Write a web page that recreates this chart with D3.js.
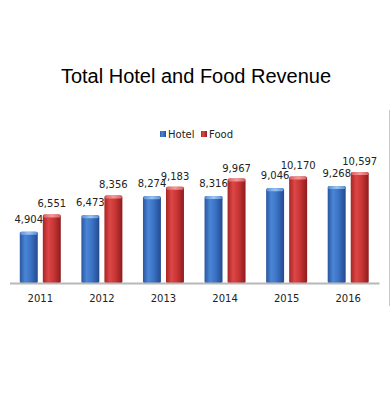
<!DOCTYPE html>
<html>
<head>
<meta charset="utf-8">
<script src="https://cdn.jsdelivr.net/npm/d3@7"></script>
<style>
  body { margin: 0; background: #fff; }
  svg { display: block; }
</style>
</head>
<body>
<div class="chart"></div>
<script>
// values
const years = ["2011", "2012", "2013", "2014", "2015", "2016"];
const hotel = [4904, 6473, 8274, 8316, 9046, 9268];
const food = [6551, 8356, 9183, 9967, 10170, 10597];
const seriesNames = ["Hotel", "Food"];

const W = 390, H = 400;
const baseY = 283;

const svg = d3.select(".chart")
    .append("svg")
        .attr("width", W)
        .attr("height", H);

// gradients for the cylinder look
const defs = svg.append("defs");
const makeGrad = (id, stops) => {
    const g = defs.append("linearGradient")
        .attr("id", id)
        .attr("x1", "0%").attr("x2", "100%")
        .attr("y1", "0%").attr("y2", "0%");
    stops.forEach(s => g.append("stop").attr("offset", s[0]).attr("stop-color", s[1]));
};
makeGrad("gHotel", [["0%", "#2a56a0"], ["30%", "#4a86d6"], ["60%", "#3b72c4"], ["100%", "#234a8e"]]);
makeGrad("gFood", [["0%", "#a82424"], ["30%", "#dc4646"], ["60%", "#c93636"], ["100%", "#8e1c1c"]]);
makeGrad("gHotelTop", [["0%", "#5c93dc"], ["50%", "#9cc4f0"], ["100%", "#5c93dc"]]);
makeGrad("gFoodTop", [["0%", "#e06060"], ["50%", "#f29a9a"], ["100%", "#e06060"]]);

// title
svg.append("text")
    .attr("x", 196)
    .attr("y", 83)
    .attr("text-anchor", "middle")
    .style("font-family", "Liberation Sans, Arial, sans-serif")
    .style("font-size", "20px")
    .attr("fill", "#000")
    .text("Total Hotel and Food Revenue");

// scales
const x0 = d3.scaleBand()
    .domain(years)
    .range([9.5, 379]);

const x1 = d3.scaleBand()
    .domain(seriesNames)
    .range([0, 41])
    .paddingInner(0.22);

const y = d3.scaleLinear()
    .domain([0, 10597])
    .range([baseY, 172]);

const rows = years.map((yr, i) => ({ year: yr, vals: [
    { key: "Hotel", v: hotel[i] },
    { key: "Food", v: food[i] }
]}));

// right border line
svg.append("line")
    .attr("x1", 389.5).attr("x2", 389.5)
    .attr("y1", 110).attr("y2", 306)
    .attr("stroke", "#c8c8c8")
    .attr("stroke-width", 1);

const groups = svg.selectAll("g.grp")
    .data(rows)
    .join("g")
        .attr("class", "grp")
        .attr("transform", d => `translate(${x0(d.year) + (x0.bandwidth() - 41) / 2},0)`);

const bars = groups.selectAll("g.bar")
    .data(d => d.vals)
    .join("g")
        .attr("class", "bar");

bars.append("rect")
    .attr("x", d => x1(d.key))
    .attr("y", d => y(d.v))
    .attr("width", x1.bandwidth())
    .attr("height", d => baseY - y(d.v))
    .attr("rx", 1.5)
    .attr("fill", d => d.key === "Hotel" ? "url(#gHotel)" : "url(#gFood)");

// lighter top caps
bars.append("rect")
    .attr("x", d => x1(d.key) + 0.5)
    .attr("y", d => y(d.v))
    .attr("width", x1.bandwidth() - 1)
    .attr("height", 3)
    .attr("rx", 1.5)
    .attr("fill", d => d.key === "Hotel" ? "url(#gHotelTop)" : "url(#gFoodTop)");

// data labels
bars.append("text")
    .attr("x", d => x1(d.key) + x1.bandwidth() / 2)
    .attr("y", d => y(d.v) - (d.key === "Hotel" ? 9 : 7))
    .attr("text-anchor", "middle")
    .style("font-family", "DejaVu Sans, sans-serif")
    .style("font-size", "10px")
    .attr("fill", "#222")
    .text(d => d3.format(",")(d.v));

// x axis
const xAxis = svg.append("g")
    .attr("transform", `translate(0,${baseY})`)
    .call(d3.axisBottom(x0).tickSize(0).tickPadding(12));
xAxis.select(".domain")
    .attr("stroke", "#b8b8b8")
    .attr("stroke-width", 2);
xAxis.selectAll("text")
    .style("font-family", "DejaVu Sans, sans-serif")
    .style("font-size", "10px")
    .attr("fill", "#222");

// legend
const legend = svg.append("g")
    .attr("transform", "translate(160,131)");
const legItems = [
    { name: "Hotel", fill: "url(#gHotel)", x: 0 },
    { name: "Food", fill: "url(#gFood)", x: 41 }
];
const li = legend.selectAll("g")
    .data(legItems)
    .join("g")
        .attr("transform", d => `translate(${d.x},0)`);
li.append("rect")
    .attr("width", 6).attr("height", 6)
    .attr("fill", d => d.fill);
li.append("text")
    .attr("x", 8)
    .attr("y", 7)
    .style("font-family", "DejaVu Sans, sans-serif")
    .style("font-size", "10px")
    .attr("fill", "#222")
    .text(d => d.name);
</script>
</body>
</html>
